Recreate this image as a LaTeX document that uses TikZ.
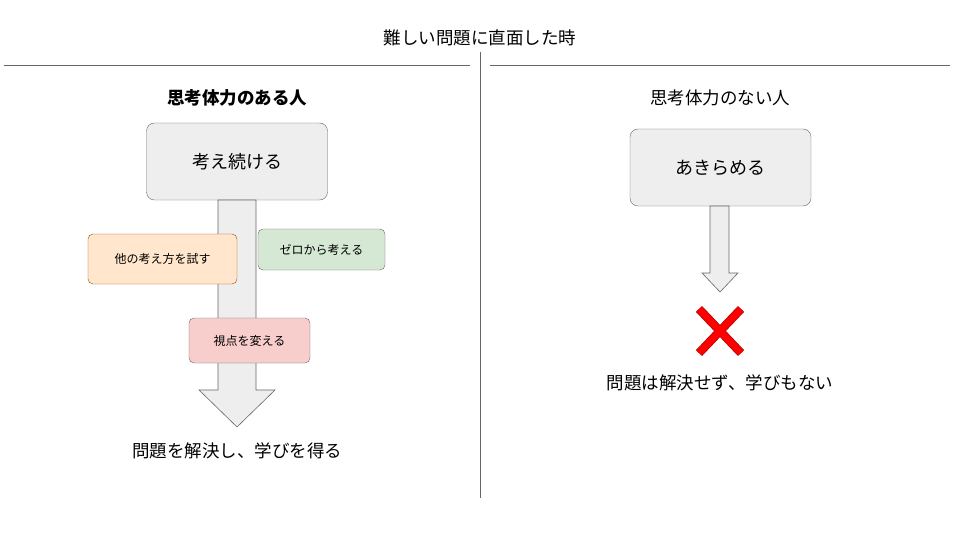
\documentclass[tikz,border=0pt]{standalone}
\usepackage{fontspec}
\setmainfont{Noto Sans CJK JP}
\usetikzlibrary{positioning}
\definecolor{boxgray}{HTML}{EEEEEE}
\definecolor{linegray}{HTML}{666666}
\definecolor{tryfill}{HTML}{FFE6CC}
\definecolor{zerofill}{HTML}{D5E8D4}
\definecolor{viewfill}{HTML}{F8CECC}
\tikzset{
	stage/.style={rectangle, rounded corners=8pt, draw=linegray, fill=boxgray, inner sep=0pt, font=\fontsize{18pt}{20pt}\selectfont},
	hint/.style={rectangle, rounded corners=5pt, draw=linegray, inner sep=0pt, font=\fontsize{12pt}{14pt}\selectfont},
	caption/.style={font=\fontsize{17.5pt}{20pt}\selectfont},
	flow/.style={draw=linegray, fill=boxgray, line width=0.6pt}
}
\begin{document}
\begin{tikzpicture}[x=1pt, y=-1pt]
	\useasboundingbox (0,0) rectangle (960,540);
	% header
	\node[caption] (title) at (480,38) {難しい問題に直面した時};
	\draw[linegray] (4,65) -- (470,65);
	\draw[linegray] (490,65) -- (950,65);
	\draw[linegray] (480,52) -- (480,498);
	% left side
	\node[caption, font=\bfseries\fontsize{17.5pt}{20pt}\selectfont] (strong) at (237,98) {思考体力のある人};
	\node[stage, minimum width=181pt, minimum height=77pt] (think) at (237,161.5) {考え続ける};
	\draw[flow] (218,200) -- (256,200) -- (256,390) -- (275,390) -- (237,427) -- (199,390) -- (218,390) -- cycle;
	\node[hint, fill=tryfill, draw=orange!60!black, minimum width=149pt, minimum height=50pt] (other) at (162.5,259) {他の考え方を試す};
	\node[hint, fill=zerofill, minimum width=127pt, minimum height=41pt] (zero) at (321.5,249.5) {ゼロから考える};
	\node[hint, fill=viewfill, minimum width=121pt, minimum height=45pt] (view) at (249.5,340.5) {視点を変える};
	\node[caption] (solve) at (237,451) {問題を解決し、学びを得る};
	% right side
	\node[caption] (weak) at (720,98) {思考体力のない人};
	\node[stage, minimum width=181pt, minimum height=77pt] (giveup) at (720.5,167.5) {あきらめる};
	\draw[flow] (710,206) -- (729,206) -- (729,273) -- (738,273) -- (720,292) -- (702,273) -- (710,273) -- cycle;
	\foreach \dx in {-1,1}
		\draw[red!70!black, line width=8.5pt] (720-21*\dx,309) -- (720+21*\dx,353);
	\foreach \dx in {-1,1}
		\draw[red, line width=7pt] (720-21*\dx,309) -- (720+21*\dx,353);
	\node[caption] (fail) at (720,383) {問題は解決せず、学びもない};
\end{tikzpicture}
\end{document}
